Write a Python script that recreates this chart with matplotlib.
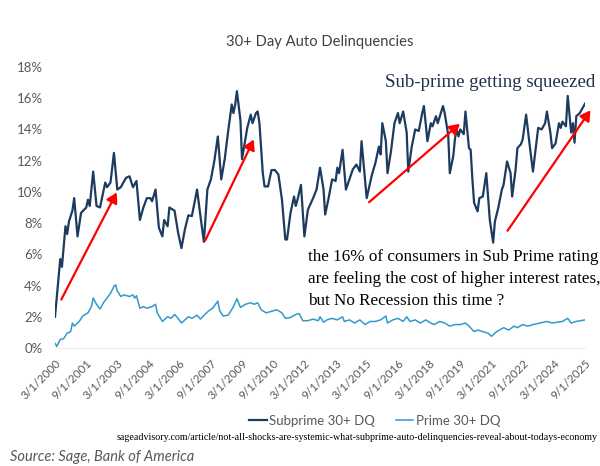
import pandas as pd
import matplotlib
matplotlib.use("Agg")
import matplotlib.pyplot as plt
from matplotlib.ticker import FuncFormatter

# subprime 30+ day delinquency rate (%)
sub_dates = [
    "2000-03", "2000-06", "2000-07", "2000-09", "2000-10", "2000-11", "2001-01", "2001-02",
    "2001-04", "2001-06", "2001-09", "2001-10", "2001-11", "2002-01", "2002-03", "2002-05",
    "2002-08", "2002-09", "2002-11", "2003-01", "2003-03", "2003-05", "2003-08", "2003-10",
    "2003-12", "2004-02", "2004-04", "2004-06", "2004-08", "2004-10", "2004-11", "2005-01",
    "2005-03", "2005-05", "2005-06", "2005-08", "2005-09", "2005-12", "2006-02", "2006-04",
    "2006-06", "2006-08", "2006-10", "2007-01", "2007-03", "2007-05", "2007-07", "2007-09",
    "2007-11", "2008-01", "2008-03", "2008-05", "2008-07", "2008-09", "2008-10", "2008-11",
    "2008-12", "2009-02", "2009-03", "2009-06", "2009-08", "2009-09", "2009-11", "2009-12",
    "2010-01", "2010-03", "2010-04", "2010-06", "2010-08", "2010-10", "2010-12", "2011-02",
    "2011-04", "2011-05", "2011-07", "2011-09", "2011-10", "2011-11", "2012-01", "2012-03",
    "2012-05", "2012-08", "2012-10", "2012-12", "2013-02", "2013-03", "2013-05", "2013-07",
    "2013-09", "2013-10", "2013-11", "2014-01", "2014-03", "2014-05", "2014-07", "2014-09",
    "2014-11", "2014-12", "2015-03", "2015-05", "2015-06", "2015-08", "2015-10", "2015-11",
    "2015-12", "2016-02", "2016-03", "2016-05", "2016-07", "2016-09", "2016-10", "2016-12",
    "2017-02", "2017-03", "2017-05", "2017-07", "2017-09", "2017-11", "2017-12", "2018-02",
    "2018-04", "2018-05", "2018-07", "2018-08", "2018-11", "2018-12", "2019-02", "2019-03",
    "2019-05", "2019-06", "2019-07", "2019-08", "2019-09", "2019-11", "2019-12", "2020-02",
    "2020-03", "2020-04", "2020-05", "2020-07", "2020-08", "2020-10", "2020-12", "2021-01",
    "2021-02", "2021-04", "2021-05", "2021-07", "2021-09", "2021-10", "2021-12", "2022-02",
    "2022-03", "2022-05", "2022-06", "2022-08", "2022-09", "2022-11", "2023-01", "2023-03",
    "2023-05", "2023-06", "2023-08", "2023-10", "2023-11", "2024-01", "2024-02", "2024-04",
    "2024-06", "2024-07", "2024-08", "2024-10", "2024-11", "2025-01", "2025-02", "2025-03",
    "2025-04", "2025-06", "2025-09",
]
sub_vals = [
    2.0, 5.7, 5.2, 7.8, 7.3, 8.1, 8.8, 9.6,
    7.15, 8.65, 9.0, 9.5, 9.1, 11.3, 9.1, 9.0,
    10.6, 10.3, 10.6, 12.5, 10.15, 10.3, 10.9, 11.0,
    10.3, 10.7, 8.2, 9.0, 9.6, 9.6, 9.4, 10.15,
    7.7, 7.15, 8.2, 7.8, 9.0, 8.8, 7.4, 6.4,
    7.6, 8.5, 8.45, 10.15, 8.45, 6.8, 10.15, 10.8,
    12.0, 13.55, 10.8, 12.1, 13.9, 15.6, 15.05, 15.6,
    16.45, 14.6, 12.1, 14.1, 14.95, 14.4, 15.05, 15.15,
    14.4, 11.2, 10.35, 10.35, 11.4, 11.4, 11.1, 9.5,
    6.95, 6.95, 8.65, 9.7, 9.1, 9.5, 10.45, 7.15,
    8.85, 9.6, 10.15, 11.55, 10.15, 8.55, 9.6, 10.8,
    10.7, 11.55, 11.2, 12.7, 10.15, 10.8, 11.45, 11.75,
    11.3, 13.25, 9.6, 10.6, 11.1, 11.85, 12.9, 12.4,
    14.4, 13.25, 11.2, 12.6, 14.4, 15.05, 14.4, 15.15,
    13.8, 11.3, 12.9, 14.0, 13.9, 15.05, 15.5, 13.25,
    14.4, 14.2, 14.85, 14.4, 15.5, 15.05, 13.65, 11.2,
    12.3, 13.45, 14.0, 13.55, 14.0, 13.7, 15.15, 12.8,
    12.7, 10.8, 9.3, 8.75, 9.6, 9.7, 11.2, 9.7,
    8.2, 6.75, 8.1, 9.0, 10.15, 10.45, 11.95, 11.2,
    9.7, 11.45, 12.8, 13.05, 13.35, 14.95, 13.05, 11.3,
    13.15, 14.1, 14.0, 14.4, 15.15, 13.8, 12.8, 13.1,
    14.4, 14.1, 14.5, 14.2, 16.15, 13.8, 14.4, 13.15,
    14.85, 15.05, 15.65,
]

# prime 30+ day delinquency rate (%)
prime_dates = [
    "2000-03", "2000-04", "2000-06", "2000-08", "2000-10", "2000-12", "2001-01", "2001-02",
    "2001-04", "2001-05", "2001-07", "2001-10", "2001-12", "2002-01", "2002-03", "2002-05",
    "2002-07", "2002-09", "2002-11", "2003-01", "2003-02", "2003-03", "2003-05", "2003-07",
    "2003-10", "2003-12", "2004-01", "2004-02", "2004-04", "2004-06", "2004-08", "2004-11",
    "2005-01", "2005-02", "2005-05", "2005-07", "2005-08", "2005-10", "2005-12", "2006-02",
    "2006-04", "2006-06", "2006-08", "2006-10", "2007-01", "2007-03", "2007-06", "2007-08",
    "2007-10", "2008-01", "2008-02", "2008-04", "2008-07", "2008-10", "2008-12", "2009-02",
    "2009-05", "2009-08", "2009-10", "2009-12", "2010-02", "2010-05", "2010-08", "2010-11",
    "2011-02", "2011-04", "2011-07", "2011-10", "2011-12", "2012-02", "2012-05", "2012-08",
    "2012-11", "2012-12", "2013-02", "2013-04", "2013-07", "2013-10", "2014-01", "2014-02",
    "2014-05", "2014-08", "2014-11", "2015-02", "2015-05", "2015-08", "2015-11", "2016-02",
    "2016-03", "2016-06", "2016-09", "2016-12", "2017-02", "2017-04", "2017-07", "2017-10",
    "2018-01", "2018-04", "2018-06", "2018-09", "2018-12", "2019-03", "2019-06", "2019-09",
    "2019-12", "2020-02", "2020-05", "2020-07", "2020-10", "2021-01", "2021-03", "2021-06",
    "2021-10", "2022-01", "2022-04", "2022-06", "2022-09", "2022-12", "2023-03", "2023-07",
    "2023-11", "2024-02", "2024-05", "2024-08", "2024-11", "2025-01", "2025-04", "2025-09",
]
prime_vals = [
    0.3, 0.1, 0.55, 0.6, 0.95, 1.05, 1.6, 1.4,
    1.6, 1.7, 2.05, 2.25, 2.65, 3.2, 2.8, 2.5,
    2.9, 3.2, 3.5, 3.95, 4.05, 3.65, 3.3, 3.4,
    3.3, 3.4, 3.2, 3.35, 2.55, 2.65, 2.55, 2.65,
    2.8, 2.25, 1.7, 1.9, 2.0, 1.9, 2.15, 1.9,
    1.6, 1.8, 2.0, 1.9, 2.1, 1.85, 2.2, 2.4,
    2.55, 3.0, 2.4, 2.05, 2.1, 2.65, 3.15, 2.6,
    2.8, 2.9, 2.8, 2.9, 2.45, 2.25, 2.35, 2.45,
    2.25, 1.9, 1.95, 2.15, 2.2, 1.75, 1.75, 1.85,
    1.75, 2.0, 1.65, 1.8, 1.9, 1.8, 2.0, 1.7,
    1.8, 1.6, 1.8, 1.5, 1.7, 1.7, 1.8, 2.05,
    1.6, 1.8, 1.9, 1.7, 2.0, 1.7, 1.8, 1.6,
    1.8, 1.6, 1.5, 1.7, 1.6, 1.4, 1.5, 1.5,
    1.6, 1.4, 1.05, 1.15, 1.05, 0.95, 0.75, 1.05,
    1.3, 1.15, 1.4, 1.3, 1.5, 1.4, 1.5, 1.6,
    1.7, 1.6, 1.65, 1.7, 1.9, 1.6, 1.7, 1.8,
]

tick_labels = ["3/1/2000", "9/1/2001", "3/1/2003", "9/1/2004", "3/1/2006", "9/1/2007",
               "3/1/2009", "9/1/2010", "3/1/2012", "9/1/2013", "3/1/2015", "9/1/2016",
               "3/1/2018", "9/1/2019", "3/1/2021", "9/1/2022", "3/1/2024", "9/1/2025"]
y_ticks = [0, 2, 4, 6, 8, 10, 12, 14, 16, 18]

plt.rcParams["font.family"] = ["Lato", "DejaVu Sans"]
SUB_COLOR = "#1c3b5e"
PRIME_COLOR = "#3399cc"
GRAY = "#595959"

fig = plt.figure(figsize=(6.0, 4.66), dpi=100)
ax = fig.add_axes([55 / 600, 1 - 348 / 466, 530 / 600, 281 / 466])

sub_x = pd.to_datetime(sub_dates)
prime_x = pd.to_datetime(prime_dates)
ax.plot(sub_x, sub_vals, color=SUB_COLOR, lw=1.6, label="Subprime 30+ DQ", solid_joinstyle="round")
ax.plot(prime_x, prime_vals, color=PRIME_COLOR, lw=1.1, label="Prime 30+ DQ", solid_joinstyle="round")

tick_x = pd.to_datetime(tick_labels, format="%m/%d/%Y")
ax.set_xlim(tick_x[0], tick_x[-1])
ax.set_ylim(0, 18)
ax.set_xticks(tick_x)
ax.set_xticklabels(tick_labels, rotation=45, ha="right", va="top",
                   rotation_mode="anchor", fontsize=8.4, color=GRAY)
ax.set_yticks(y_ticks)
ax.yaxis.set_major_formatter(FuncFormatter(lambda v, _: f"{v:.0f}%"))
ax.tick_params(axis="y", length=0, pad=9, labelsize=9.5, labelcolor=GRAY)
ax.tick_params(axis="x", length=0, pad=7)
for s in ["top", "right", "left"]:
    ax.spines[s].set_visible(False)
ax.spines["bottom"].set_color("#eeeeee")
ax.patch.set_alpha(0)

fig.text(320 / 600, 1 - 42 / 466, "30+ Day Auto Delinquencies", ha="center", va="center",
         fontsize=10.6, color="#404040")

fig.legend(loc="center", bbox_to_anchor=(375 / 600, 1 - 421 / 466), ncol=2, frameon=False,
           fontsize=9.5, handlelength=1.3, handletextpad=0.2, columnspacing=1.6,
           labelcolor=GRAY)

# annotations
serif = ["Liberation Serif", "DejaVu Serif"]
fig.text(595 / 600, 1 - 83 / 466, "Sub-prime getting squeezed", ha="right", va="center",
         fontsize=13.6, color="#1f2f4f", family=serif)
fig.text(308 / 600, 1 - 279 / 466,
         "the 16% of consumers in Sub Prime rating\nare feeling the cost of higher interest rates,\nbut No Recession this time ?",
         ha="left", va="center", fontsize=12.3, color="black", family=serif, linespacing=1.5)
fig.text(598 / 600, 1 - 437 / 466,
         "sageadvisory.com/article/not-all-shocks-are-systemic-what-subprime-auto-delinquencies-reveal-about-todays-economy",
         ha="right", va="center", fontsize=7.2, color="black", family=serif)
fig.text(10 / 600, 1 - 457 / 466, "Source: Sage, Bank of America", ha="left", va="center",
         fontsize=10.5, color=GRAY, style="italic")

arrows = [((60, 302), (118, 190)), ((204, 243), (255, 137)),
          ((367, 204), (462, 122)), ((506, 233), (592, 108))]
for (x0, y0), (x1, y1) in arrows:
    fig.add_artist(matplotlib.patches.FancyArrowPatch(
        (x0 / 600, 1 - y0 / 466), (x1 / 600, 1 - y1 / 466), transform=fig.transFigure,
        arrowstyle="-|>,head_length=6,head_width=3.5", color="#ff0000", lw=1.6))

fig.savefig("out.png", dpi=100)
